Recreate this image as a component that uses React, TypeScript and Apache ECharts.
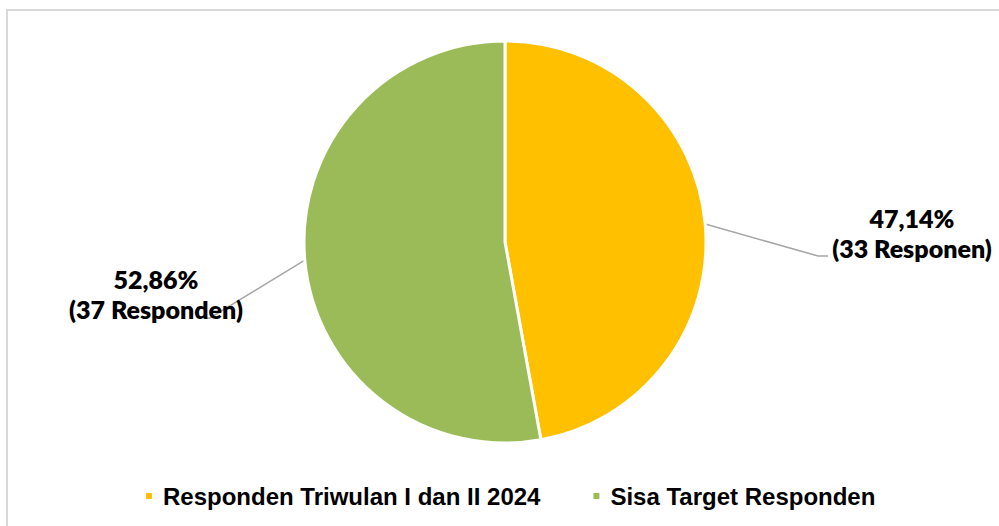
import React, { useEffect, useRef } from "react";
import * as echarts from "echarts";

const categories = ["Responden Triwulan I dan II 2024", "Sisa Target Responden"];
const respondents = [33, 37];
const percentLabels = ["47,14%", "52,86%"];
const countLabels = ["(33 Responen)", "(37 Responden)"];
const colors = ["#FFC000", "#9BBB59"];

export default function App() {
  const ref = useRef<HTMLDivElement>(null);
  useEffect(() => {
    document.body.style.margin = "0";
    const chart = echarts.init(ref.current!, null, { renderer: "svg" });
    const labelPos = [
      { x: 912, y: 233, line: [[818, 256], [828, 256]] },
      { x: 156, y: 294, line: [[210, 318], [203, 318]] },
    ];
    chart.setOption({
      animation: false,
      backgroundColor: "#ffffff",
      graphic: [
        {
          type: "rect",
          shape: { x: 7, y: 10, width: 1000, height: 530 },
          style: { fill: "none", stroke: "#d9d9d9", lineWidth: 2 },
          silent: true,
          z: -1,
        },
      ],
      legend: {
        left: 139,
        top: 479,
        icon: "rect",
        itemWidth: 8,
        itemHeight: 8,
        itemGap: 51,
        textStyle: {
          fontFamily: "Liberation Sans",
          fontWeight: "bold",
          fontSize: 24,
          color: "#000000",
          padding: [0, 0, 0, 5],
        },
        data: categories,
      },
      series: [
        {
          type: "pie",
          center: [505, 242],
          radius: [0, 201],
          startAngle: 90,
          clockwise: true,
          itemStyle: { borderColor: "#ffffff", borderWidth: 3 },
          label: {
            show: true,
            formatter: (p: any) =>
              percentLabels[p.dataIndex] + "\n" + countLabels[p.dataIndex],
            fontFamily: "Lato",
            fontWeight: 800,
            fontSize: 25,
            lineHeight: 30,
            color: "#000000",
            align: "center",
          },
          labelLine: {
            show: true,
            lineStyle: { color: "#A6A6A6", width: 1.5 },
          },
          labelLayout: (params: any) => {
            const lp = labelPos[params.dataIndex];
            const start = params.labelLinePoints ? params.labelLinePoints[0] : null;
            const out: any = {
              x: lp.x,
              y: lp.y,
              align: "center",
              verticalAlign: "middle",
            };
            if (start) out.labelLinePoints = [start, lp.line[0], lp.line[1]];
            return out;
          },
          data: categories.map((name, i) => ({
            name,
            value: respondents[i],
            itemStyle: { color: colors[i] },
          })),
        },
      ],
    });
    return () => chart.dispose();
  }, []);
  return <div ref={ref} style={{ width: 999, height: 526 }} />;
}
